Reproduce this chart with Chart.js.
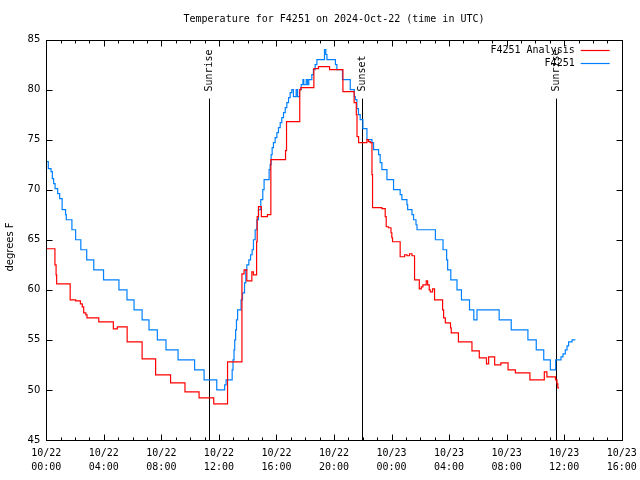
<!DOCTYPE html>
<html>
<head>
<meta charset="utf-8">
<script src="https://cdn.jsdelivr.net/npm/chart.js@4.4.1/dist/chart.umd.min.js"></script>
<style>
  body { margin: 0; background: #fff; }
</style>
</head>
<body>
<canvas id="chart" width="640" height="480"></canvas>
<script>
// Temperature for F4251, 2024-Oct-22 (UTC), hours since 10/22 00:00
const titleText = 'Temperature for F4251 on 2024-Oct-22 (time in UTC)';
const seriesNames = ['F4251 Analysis', 'F4251'];
const seriesColors = ['#ff0000', '#0080ff'];

// step points: value holds from time until the next time
const analysisTimes = [0, 0.6, 0.68, 0.72, 1.66, 2.04, 2.37, 2.5, 2.6, 2.75, 2.83, 3.65, 4.66, 4.94, 5.62, 6.66, 7.6, 8.64, 9.64, 10.62, 11.64,
  12.6, 13.6, 13.75, 13.94, 14.29, 14.4, 14.62, 14.66, 14.75, 14.95, 15.37, 15.61, 16.63, 16.7, 17.62, 17.7, 18.6, 18.92, 19.69, 20.62,
  21.4, 21.55, 21.6, 21.71, 22.29, 22.4, 22.52, 22.64, 22.68, 23.33, 23.56, 23.63, 23.79, 23.96, 24.02, 24.07, 24.6, 24.91, 25.07, 25.25,
  25.42, 25.6, 25.93, 26.07, 26.18, 26.41, 26.51, 26.62, 26.69, 26.85, 26.99, 27.55, 27.62, 27.74, 28.1, 28.15, 28.65, 29.59, 30.1, 30.6,
  30.75, 31.17, 31.6, 32.1, 32.61, 33.62, 34.62, 34.8, 35.4, 35.5, 35.56, 35.64];
const analysisTemps = [64.1, 62.5, 61.5, 60.6, 59, 58.9, 58.6, 58.3, 57.7, 57.5, 57.2, 56.8, 56.1, 56.3, 54.8, 53.1, 51.5, 50.7, 49.8, 49.2, 48.6,
  52.8, 61.6, 62, 60.9, 61.8, 61.5, 64.8, 67.3, 68.3, 67.3, 67.5, 73, 73.9, 76.8, 80, 80.2, 82.1, 82.3, 82, 79.8,
  78.7, 77.5, 75.3, 74.7, 75, 74.8, 74.7, 71.5, 68.2, 68.1, 67.3, 66.3, 66.2, 65.7, 65.2, 64.8, 63.3, 63.5, 63.4, 63.6,
  63.4, 61, 60.1, 60.3, 60.5, 60.9, 60.5, 60, 59.8, 60.1, 59, 58, 57.2, 56.7, 56.2, 55.7, 54.8, 53.9, 53.2, 52.6,
  53.3, 52.5, 52.7, 52, 51.7, 51, 51.8, 51.3, 51, 50.6, 50.2, 50.2];

const stationTimes = [0, 0.14, 0.33, 0.42, 0.51, 0.61, 0.79, 0.93, 1.1, 1.34, 1.39, 1.78, 2.04, 2.4, 2.81, 3.3, 3.98, 5.05, 5.61, 6.1, 6.66,
  7.14, 7.72, 8.32, 9.16, 10.31, 10.97, 11.85, 12.4, 12.5, 12.92, 12.98, 13.05, 13.1, 13.16, 13.22, 13.3, 13.54, 13.64, 13.78, 13.87,
  13.94, 14.08, 14.2, 14.31, 14.4, 14.52, 14.64, 14.75, 14.91, 15.05, 15.14, 15.49, 15.56, 15.63, 15.7, 15.79, 15.91, 16.03, 16.14, 16.26,
  16.37, 16.49, 16.61, 16.72, 16.84, 16.95, 17.07, 17.18, 17.37, 17.46, 17.6, 17.72, 17.84, 17.9, 18.07, 18.16, 18.25, 18.46, 18.57, 18.69,
  18.81, 19.34, 19.43, 19.51, 20.1, 20.2, 20.59, 21.13, 21.41, 21.48, 21.59, 21.7, 21.82, 22.01, 22.29, 22.64, 22.75, 23.1, 23.21, 23.33,
  23.68, 24.14, 24.6, 24.72, 25.07, 25.12, 25.42, 25.53, 25.7, 25.77, 27.05, 27.58, 27.83, 27.9, 28.12, 28.55, 28.86, 29.42, 29.72, 29.94,
  31.48, 32.32, 33.48, 34.06, 34.58, 35.04, 35.41, 35.78, 35.92, 36.08, 36.2, 36.31, 36.55, 36.78];
const stationTemps = [72.8, 72.1, 71.8, 71.1, 70.6, 70.1, 69.6, 69.1, 68, 67.5, 67, 66, 65, 64, 63, 62, 61, 60, 59, 58, 57,
  56, 55, 54, 53, 52, 51, 50, 50.5, 51, 52, 53, 54, 55, 56, 57, 58, 59, 59.7, 60.7, 62,
  62.5, 63, 63.5, 64, 65, 66, 67, 68, 69, 70, 71, 72, 72.5, 73.5, 74.2, 74.7, 75.2, 75.7, 76.2, 76.7,
  77.2, 77.7, 78.2, 78.7, 79.2, 79.7, 80, 79.3, 80, 79.3, 80, 80.5, 81, 80.5, 81, 80.5, 81, 81.5, 82, 82.5,
  83, 84, 83.5, 83, 82.5, 82, 81, 80, 79.3, 79, 78.1, 77.5, 77, 76.1, 75, 74.7, 74, 73.5, 72.7, 72,
  71, 70, 69.5, 69, 68.5, 68, 67.5, 67, 66.5, 66, 65, 64, 63, 62, 61, 60, 59, 58, 57, 58,
  57, 56, 55, 54, 53, 52, 53, 53.3, 53.6, 54, 54.4, 54.8, 55, 55];

// sun events (hours) and where their marker lines start (degrees F)
const sunNames = ['Sunrise', 'Sunset', 'Sunrise'];
const sunTimes = [11.34, 21.98, 35.41];
const sunLineTop = 79.1;

const xMin = 0, xMax = 40, xStep = 4;
const yMin = 45, yMax = 85, yStep = 5;

function toPoints(times, temps) {
    return times.map((t, i) => ({ x: t, y: temps[i] }));
}

function timeLabel(h) {
    const day = 22 + Math.floor(h / 24);
    const hour = h % 24;
    return ['10/' + day, String(hour).padStart(2, '0') + ':00'];
}

const MONO = '10px "DejaVu Sans Mono"';

// gnuplot style frame: inward ticks, sun markers, legend, title
const gnuplotFrame = {
    id: 'gnuplotFrame',
    beforeDatasetsDraw(chart) {
        const { ctx, chartArea: a, scales: { x, y } } = chart;
        ctx.save();
        ctx.strokeStyle = '#000';
        ctx.fillStyle = '#000';
        ctx.lineWidth = 1;
        ctx.font = MONO;
        sunTimes.forEach((t, i) => {
            const px = Math.round(x.getPixelForValue(t)) + 0.5;
            const top = y.getPixelForValue(sunLineTop);
            ctx.beginPath();
            ctx.moveTo(px, top);
            ctx.lineTo(px, a.bottom);
            ctx.stroke();
            ctx.save();
            ctx.translate(px, top - 7);
            ctx.rotate(-Math.PI / 2);
            ctx.textAlign = 'left';
            ctx.textBaseline = 'middle';
            ctx.fillText(sunNames[i], 0, 0);
            ctx.restore();
        });
        ctx.restore();
    },
    afterDatasetsDraw(chart) {
        const { ctx, chartArea: a, scales: { x, y } } = chart;
        ctx.save();
        ctx.strokeStyle = '#000';
        ctx.lineWidth = 1;
        const L = Math.round(a.left) + 0.5, R = Math.round(a.right) + 0.5;
        const T = Math.round(a.top) + 0.5, B = Math.round(a.bottom) + 0.5;
        ctx.strokeRect(L, T, R - L, B - T);

        ctx.beginPath();
        for (let h = xMin; h <= xMax; h++) {
            const px = Math.round(x.getPixelForValue(h)) + 0.5;
            const len = h % xStep === 0 ? 6 : 3;
            ctx.moveTo(px, B); ctx.lineTo(px, B - len);
            ctx.moveTo(px, T); ctx.lineTo(px, T + len);
        }
        for (let v = yMin; v <= yMax; v += yStep) {
            const py = Math.round(y.getPixelForValue(v)) + 0.5;
            ctx.moveTo(L, py); ctx.lineTo(L + 6, py);
            ctx.moveTo(R, py); ctx.lineTo(R - 6, py);
        }
        ctx.stroke();

        // legend
        ctx.font = MONO;
        ctx.textAlign = 'right';
        ctx.textBaseline = 'middle';
        seriesNames.forEach((name, i) => {
            const ly = a.top + 10.5 + i * 13;
            ctx.fillStyle = '#000';
            ctx.fillText(name, a.right - 47, ly);
            ctx.strokeStyle = seriesColors[i];
            ctx.lineWidth = 1.2;
            ctx.beginPath();
            ctx.moveTo(a.right - 41, Math.round(ly) + 0.5);
            ctx.lineTo(a.right - 12, Math.round(ly) + 0.5);
            ctx.stroke();
        });

        // title
        ctx.fillStyle = '#000';
        ctx.textAlign = 'center';
        ctx.fillText(titleText, (a.left + a.right) / 2, 19);

        // y axis title
        ctx.save();
        ctx.translate(10, 247);
        ctx.rotate(-Math.PI / 2);
        ctx.font = '10px "DejaVu Sans"';
        ctx.fillText('degrees F', 0, 0);
        ctx.restore();
        ctx.restore();
    }
};

new Chart(document.getElementById('chart'), {
    type: 'line',
    data: {
        datasets: [
            {
                label: seriesNames[0],
                data: toPoints(analysisTimes, analysisTemps),
                borderColor: seriesColors[0],
                borderWidth: 1.2,
                stepped: true,
                pointRadius: 0,
                fill: false
            },
            {
                label: seriesNames[1],
                data: toPoints(stationTimes, stationTemps),
                borderColor: seriesColors[1],
                borderWidth: 1.2,
                stepped: true,
                pointRadius: 0,
                fill: false
            }
        ]
    },
    options: {
        responsive: false,
        devicePixelRatio: 1,
        animation: false,
        layout: { padding: { left: 0, top: 39.5, right: 18.3, bottom: 0 } },
        plugins: {
            legend: { display: false },
            title: { display: false },
            tooltip: { enabled: false }
        },
        scales: {
            x: {
                type: 'linear',
                min: xMin,
                max: xMax,
                grid: { display: false, drawTicks: false },
                border: { display: false },
                ticks: {
                    stepSize: xStep,
                    autoSkip: false,
                    maxRotation: 0,
                    padding: 7,
                    color: '#000',
                    font: { family: 'DejaVu Sans Mono', size: 10, lineHeight: 1.35 },
                    callback: v => timeLabel(v)
                },
                afterFit(scale) {
                    scale.height = 40;
                    scale.paddingLeft = 0;
                    scale.paddingRight = 0;
                }
            },
            y: {
                min: yMin,
                max: yMax,
                grid: { display: false, drawTicks: false },
                border: { display: false },
                ticks: {
                    stepSize: yStep,
                    padding: 6,
                    color: '#000',
                    font: { family: 'DejaVu Sans', size: 10 }
                },
                afterFit(scale) {
                    scale.width = 46.3;
                    scale.paddingTop = 0;
                    scale.paddingBottom = 0;
                }
            }
        }
    },
    plugins: [gnuplotFrame]
});
</script>
</body>
</html>
